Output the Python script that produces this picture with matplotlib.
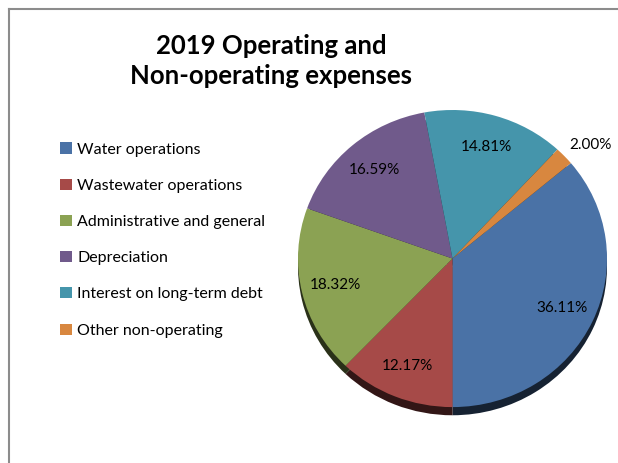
import numpy as np
import matplotlib
matplotlib.use("Agg")
import matplotlib.pyplot as plt
from matplotlib.colors import to_rgb

# Expense categories and their share of the 2019 total
categories = ["Water operations", "Wastewater operations", "Administrative and general",
              "Depreciation", "Interest on long-term debt", "Other non-operating"]
shares = [36.11, 12.17, 18.32, 16.59, 14.81, 2.00]
colors = ["#4A72A6", "#A64A48", "#8BA253", "#705A8B", "#4595AB", "#D8873F"]

plt.rcParams["font.family"] = ["Lato", "DejaVu Sans"]

W, H = 618, 463
fig = plt.figure(figsize=(W / 100, H / 100), dpi=100)

# chart frame (only the top and left edges show)
fig.add_artist(plt.Line2D([9 / W, 9 / W], [0, 1 - 9 / H], color="#8c8c8c", lw=1.5))
fig.add_artist(plt.Line2D([9 / W, 1], [1 - 9 / H, 1 - 9 / H], color="#8c8c8c", lw=1.5))

fig.text(271 / W, 1 - 61 / H, "2019 Operating and\nNon-operating expenses",
         ha="center", va="center", fontsize=18.5, fontweight="bold", linespacing=1.32)

ax = fig.add_axes([298 / W, (H - 416) / H, 309 / W, 306 / H])
ax.axis("off")

start = 40
dark = [tuple(c * 0.3 for c in to_rgb(col)) for col in colors]
# dark rim underneath gives the bevelled look at the bottom
ax.pie(shares, colors=dark, startangle=start, counterclock=False,
       center=(0, -0.055), radius=1.0, frame=False,
       wedgeprops=dict(linewidth=0, zorder=1))
wedges, _ = ax.pie(shares, colors=colors, startangle=start, counterclock=False,
                   radius=1.0, frame=False, wedgeprops=dict(linewidth=0, zorder=2))
ax.set_aspect("auto")
ax.set_xlim(-1, 1)
ax.set_ylim(-1.06, 1)

for w, v in zip(wedges, shares):
    mid = np.deg2rad((w.theta1 + w.theta2) / 2)
    if v < 5:
        # small slice: label sits just outside the rim
        ax.text(1.04 * np.cos(mid), 1.04 * np.sin(mid), f"{v:.2f}%", ha="left",
                va="bottom", fontsize=11, color="black", zorder=3)
    else:
        ax.text(0.78 * np.cos(mid), 0.78 * np.sin(mid), f"{v:.2f}%", ha="center",
                va="center", fontsize=11, color="black", zorder=3)

fig.legend(wedges, categories, loc="upper left", bbox_to_anchor=(54 / W, 1 - 136 / H),
           frameon=False, fontsize=11.5, handlelength=0.7, handleheight=0.7,
           handletextpad=0.35, labelspacing=1.38, borderaxespad=0)

fig.savefig("out.png", dpi=100)
